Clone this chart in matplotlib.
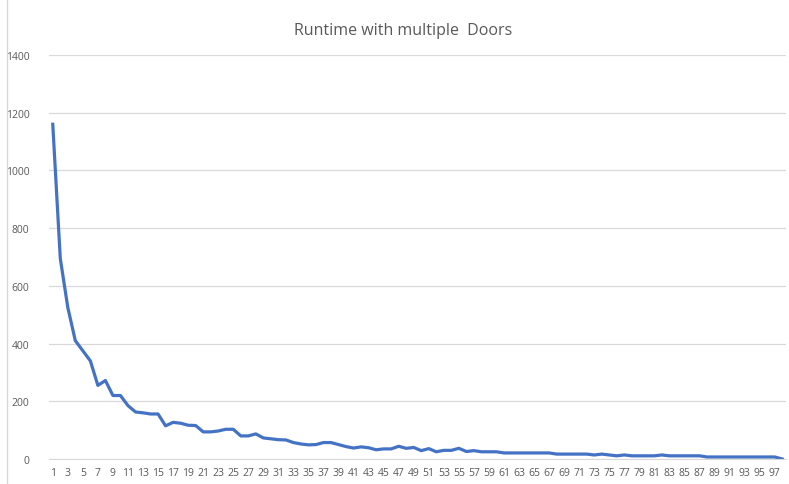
import matplotlib.pyplot as plt

doors = list(range(1, 99))
runtime = [1160, 695, 525, 410, 375, 340, 255, 272, 220, 220,
           185, 163, 160, 156, 156, 115, 127, 124, 117, 116,
           94, 94, 97, 103, 103, 80, 80, 87, 73, 70,
           67, 66, 57, 52, 49, 50, 57, 57, 50, 43,
           38, 42, 39, 32, 35, 35, 44, 37, 40, 29,
           36, 25, 30, 30, 37, 26, 29, 25, 25, 25,
           21, 21, 21, 21, 21, 21, 21, 17, 17, 17,
           17, 17, 14, 17, 14, 11, 14, 11, 11, 11,
           11, 14, 11, 11, 11, 11, 11, 7, 7, 7,
           7, 7, 7, 7, 7, 7, 7, 0]
tick_labels = [str(d) for d in doors if d % 2 == 1]

plt.rcParams['font.family'] = ['Open Sans', 'DejaVu Sans']

fig = plt.figure(figsize=(7.89, 4.85), dpi=100)
ax = fig.add_axes([49 / 789, 1 - 460 / 485, (786 - 49) / 789, (460 - 56) / 485])

ax.plot(doors, runtime, color='#4472C4', linewidth=2.3, solid_joinstyle='round')

ax.set_xlim(0.5, 98.5)
ax.set_ylim(0, 1400)
ax.set_yticks(range(0, 1401, 200))
ax.set_xticks([d for d in doors if d % 2 == 1])
ax.set_xticklabels(tick_labels)
ax.tick_params(axis='both', length=0, labelsize=7.5, labelcolor='#595959')
ax.tick_params(axis='y', pad=14)
ax.tick_params(axis='x', pad=6)

ax.grid(axis='y', color='#d9d9d9', linewidth=0.9)
ax.set_axisbelow(True)
for s in ['top', 'right', 'left']:
    ax.spines[s].set_visible(False)
ax.spines['bottom'].set_color('#d9d9d9')

fig.text(403 / 789, 1 - 31 / 485, 'Runtime with multiple  Doors', fontsize=11.5,
         color='#595959', ha='center', va='center')

# chart border on the left
fig.add_artist(plt.Line2D([7 / 789, 7 / 789], [0, 1], color='#d9d9d9', linewidth=1))

fig.savefig('out.png', dpi=100)
